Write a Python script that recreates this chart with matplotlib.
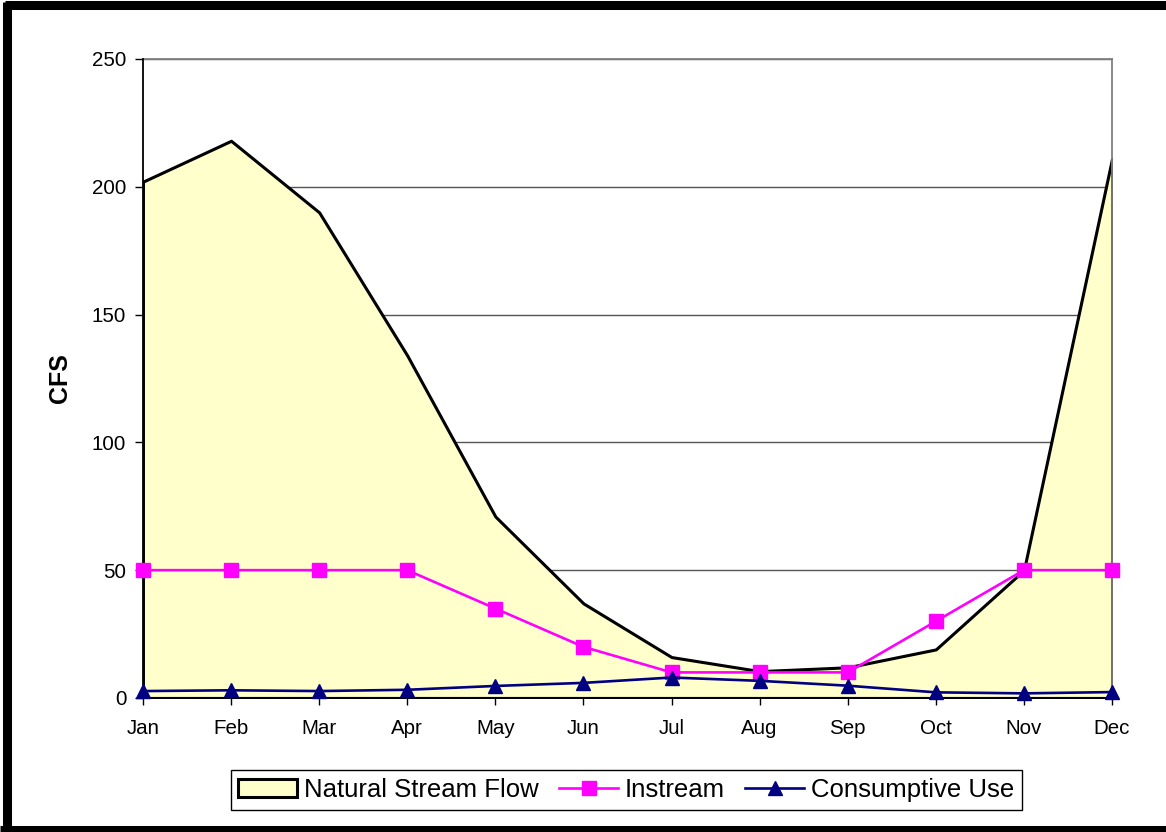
import matplotlib.pyplot as plt
from matplotlib.lines import Line2D

plt.rcParams['font.family'] = ['Liberation Sans', 'DejaVu Sans']

months = ["Jan", "Feb", "Mar", "Apr", "May", "Jun",
          "Jul", "Aug", "Sep", "Oct", "Nov", "Dec"]
natural_flow = [202, 218, 190, 134, 71, 37, 16, 10.5, 12, 19, 50, 211]
instream = [50, 50, 50, 50, 35, 20, 10, 10, 10, 30, 50, 50]
consumptive = [2.7, 3.0, 2.7, 3.2, 4.7, 5.9, 8.0, 6.7, 4.8, 2.2, 1.8, 2.3]
y_ticks = [0, 50, 100, 150, 200, 250]

fig = plt.figure(figsize=(11.66, 8.32), dpi=100)
ax = fig.add_axes([0.1226, 0.1611, 0.8311, 0.7680])

x = range(len(months))
ax.fill_between(x, 0, natural_flow, facecolor="#FFFFCC", edgecolor="black",
                linewidth=2.2, zorder=2, label="Natural Stream Flow")
ax.plot(x, instream, color="#FF00FF", linewidth=1.9, marker="s",
        markersize=10.5, zorder=4, label="Instream", clip_on=False)
ax.plot(x, consumptive, color="#000080", linewidth=1.9, marker="^",
        markersize=10.5, zorder=5, label="Consumptive Use", clip_on=False)

ax.set_xlim(0, len(months) - 1)
ax.set_ylim(0, 250)
ax.set_xticks(list(x))
ax.set_xticklabels(months)
ax.set_yticks(y_ticks)
ax.tick_params(axis="x", direction="out", length=5, width=1, pad=10, labelsize=14.8)
ax.tick_params(axis="y", direction="out", length=6, width=1, pad=6, labelsize=14.8)

ax.yaxis.grid(True, color="#555555", linewidth=1)
ax.set_axisbelow(True)
for side in ("top", "right"):
    ax.spines[side].set_color("#808080")
    ax.spines[side].set_linewidth(1.3)
for side in ("left", "bottom"):
    ax.spines[side].set_color("black")
    ax.spines[side].set_linewidth(1.3)
    ax.spines[side].set_zorder(3)

ax.set_ylabel("CFS", fontsize=18, fontweight="bold")
ax.yaxis.set_label_coords(-0.073, 0.5)

fig.legend(loc="center", bbox_to_anchor=(0.537, 0.0505), ncol=3,
           fontsize=18.5, frameon=True, fancybox=False, edgecolor="black",
           framealpha=1, borderpad=0.3, handlelength=2.3, handletextpad=0.25,
           columnspacing=0.8)

# heavy black border round the chart
border = dict(color="black", linewidth=6.5, solid_capstyle="butt")
fig.add_artist(Line2D([0.004, 1.0], [0.9934, 0.9934], **border))
fig.add_artist(Line2D([0.0064, 0.0064], [0.0, 0.9970], **border))
fig.add_artist(Line2D([0.0, 1.0], [0.0024, 0.0024], **border))

fig.savefig("out.png", dpi=100)
